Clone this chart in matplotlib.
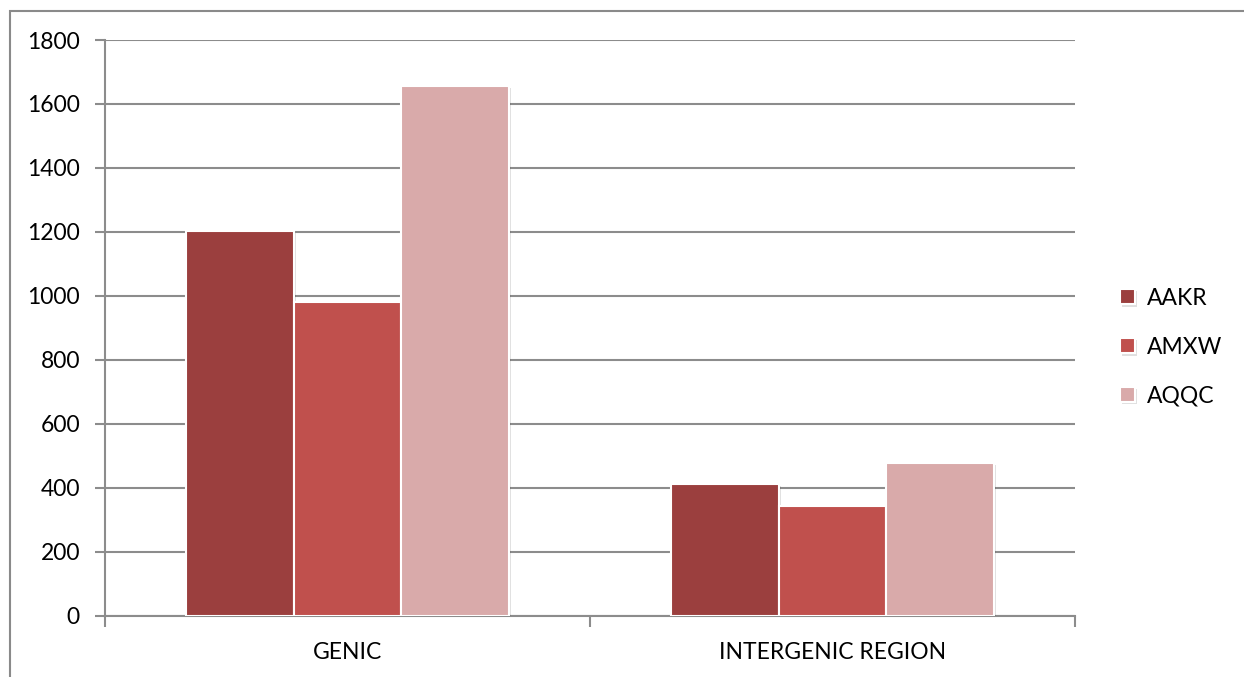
"""Grouped bar chart of site counts in genic vs intergenic regions."""

import matplotlib
matplotlib.use("Agg")
import matplotlib.pyplot as plt
import matplotlib.patheffects as pe
from matplotlib.patches import Rectangle
import numpy as np

categories = ["GENIC", "INTERGENIC REGION"]
series_names = ["AAKR", "AMXW", "AQQC"]
aakr = [1204, 412]
amxw = [980, 342]
aqqc = [1657, 476]
y_ticks = [0, 200, 400, 600, 800, 1000, 1200, 1400, 1600, 1800]

colors = ["#9b3f3e", "#c0504d", "#d9aaaa"]
grid_color = "#8c8c8c"

plt.rcParams["font.family"] = ["Lato", "DejaVu Sans"]
fs = 16.5

fig = plt.figure(figsize=(12.44, 6.77), dpi=100)
ax = fig.add_axes([0.0844, 0.0908, 0.7797, 0.8501])

# outer chart frame (only top/left edges fall inside the image)
fig.patches.append(Rectangle((9.5 / 1244, -0.1), 1.2, 1.1 - 10.5 / 677,
                             transform=fig.transFigure, fill=False,
                             edgecolor="#8a8a8a", linewidth=1.5, zorder=0))

x = np.arange(len(categories))
width = 1 / 4.5
shadow = [pe.SimplePatchShadow(offset=(1.5, -1.5), shadow_rgbFace="#000000", alpha=0.12),
          pe.Normal()]
for i, (vals, name) in enumerate(zip([aakr, amxw, aqqc], series_names)):
    bars = ax.bar(x + (i - 1) * width, vals, width, color=colors[i], label=name,
                  edgecolor="white", linewidth=1.5, zorder=3)
    for b in bars:
        b.set_path_effects(shadow)

ax.set_xlim(-0.5, 1.5)
ax.set_ylim(0, 1800)
ax.set_yticks(y_ticks)
ax.yaxis.grid(True, color=grid_color, linewidth=1.5, zorder=0)
ax.set_axisbelow(True)

ax.set_xticks(x)
ax.set_xticklabels(categories)
ax.set_xticks([-0.5, 0.5, 1.5], minor=True)
ax.tick_params(axis="x", which="major", length=0, pad=19, labelsize=fs)
ax.tick_params(axis="x", which="minor", length=8, width=1.5, color=grid_color)
ax.tick_params(axis="y", length=7, width=1.5, color=grid_color, pad=11, labelsize=fs)

for side in ["top", "right"]:
    ax.spines[side].set_visible(False)
for side in ["left", "bottom"]:
    ax.spines[side].set_color(grid_color)
    ax.spines[side].set_linewidth(1.5)

ax.legend(loc="center left", bbox_to_anchor=(1.025, 0.466), frameon=False,
          fontsize=fs, handlelength=0.65, handleheight=0.65, handletextpad=0.55,
          labelspacing=1.22)

fig.savefig("out.png", dpi=100)
